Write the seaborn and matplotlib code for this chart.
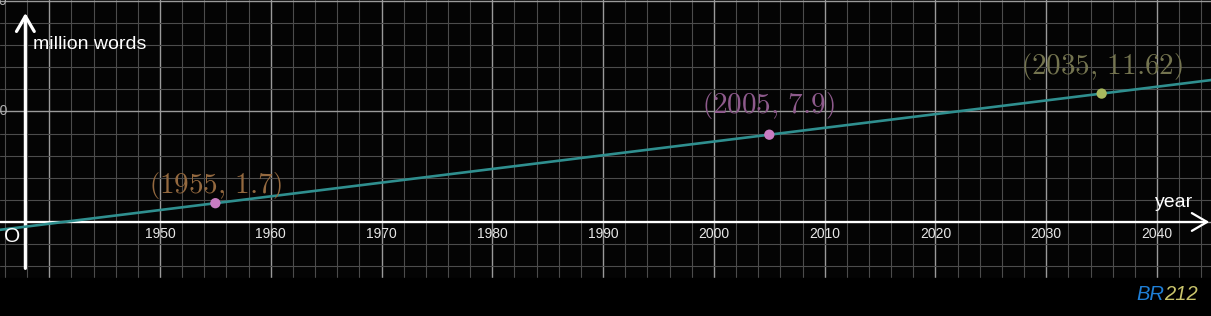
import numpy as np
import pandas as pd
import matplotlib
matplotlib.use("Agg")
import matplotlib.pyplot as plt
import seaborn as sns

# ---- data ----
years = [1955, 2005, 2035]
words = [1.7, 7.9, 11.62]
point_labels = ["(1955,\\,1.7)", "(2005,\\,7.9)", "(2035,\\,11.62)"]
point_colors = ["#c87cc2", "#c87cc2", "#a8b95e"]
label_colors = ["#94693f", "#8e5a8c", "#74744f"]
label_offsets_px = [(0, 18), (-1, 29), (0, 27)]
xtick_years = [1950, 1960, 1970, 1980, 1990, 2000, 2010, 2020, 2030, 2040]
ytick_values = [10, 20]

sns.set_theme(style="dark", rc={"axes.facecolor": "black", "figure.facecolor": "black"})
plt.rcParams["font.family"] = ["Liberation Sans", "DejaVu Sans"]
plt.rcParams["mathtext.fontset"] = "cm"

W, H = 1211, 316
fig = plt.figure(figsize=(W / 100, H / 100), dpi=100)
ax = fig.add_axes([0, 0, 1, 1])
ax.set_facecolor("#040404")

xlim = (1935.56, 2044.87)
ylim = (-8.51, 20.09)

# fitted line through the points
coef = np.polyfit(years, words, 1)
xs = np.array(xlim)
sns.lineplot(x=xs, y=np.polyval(coef, xs), ax=ax, color="#2f8f8f", lw=1.9, zorder=3)

# points
df = pd.DataFrame({"year": years, "words": words, "c": point_colors})
sns.scatterplot(data=df, x="year", y="words", hue="c", palette={c: c for c in point_colors},
                s=55, edgecolor="none", ax=ax, zorder=4, legend=False)

# grid
ax.set_xticks(np.arange(1940, 2045, 10))
ax.set_xticks(np.arange(1936, 2045, 2), minor=True)
ax.set_yticks(np.arange(-10, 21, 10))
ax.set_yticks(np.arange(-8, 21, 2), minor=True)
ax.grid(which="major", color="#9a9a9a", lw=1.0)
ax.grid(which="minor", color="#4c4c4c", lw=0.8)
ax.set_axisbelow(True)
ax.tick_params(which="both", length=0, labelbottom=False, labelleft=False)
for s in ax.spines.values():
    s.set_visible(False)
ax.set_xlim(xlim)
ax.set_ylim(ylim)

# black strip at the bottom
bottom_cut = -(278 - 222) / 11.05
ax.axhspan(ylim[0], bottom_cut, color="black", zorder=1)

# axes arrows
yaxis_x = 1937.85
ax.annotate("", xy=(xlim[1] - 0.15, 0), xytext=(xlim[0], 0),
            arrowprops=dict(arrowstyle="->,head_length=0.55,head_width=0.32",
                            color="white", lw=1.6, mutation_scale=20,
                            shrinkA=0, shrinkB=0), zorder=2)
ax.annotate("", xy=(yaxis_x, (222 - 13) / 11.05), xytext=(yaxis_x, -4.2),
            arrowprops=dict(arrowstyle="->,head_length=0.55,head_width=0.32",
                            color="white", lw=2.3, mutation_scale=20,
                            shrinkA=0, shrinkB=0), zorder=2)

for x, y, lab, col, off in zip(years, words, point_labels, label_colors, label_offsets_px):
    ax.annotate("$\\left" + lab[0] + lab[1:-1] + "\\right" + lab[-1] + "$", xy=(x, y),
                xytext=off, textcoords="offset pixels", ha="center", va="center",
                color=col, fontsize=21, zorder=5)

# x tick labels
for yr in xtick_years:
    ax.annotate(str(yr), xy=(yr, 0), xytext=(0, -12), textcoords="offset pixels",
                ha="center", va="center", color="#e6e6e6", fontsize=10)

# y tick labels (mostly cut off at left edge, as in the original)
for v in ytick_values:
    ax.annotate(str(v), xy=(xlim[0], v), xytext=(7, 0), textcoords="offset pixels",
                ha="right", va="center", color="#b0b0b0", fontsize=10)

ax.set_xlabel("")
ax.set_ylabel("")

# axis titles
fig.text(33 / W, 1 - 49 / H, "million words", color="white", fontsize=14, va="baseline")
fig.text(1155 / W, 1 - 207 / H, "year", color="white", fontsize=14, va="baseline")
fig.text(12.5 / W, 1 - 237 / H, "O", color="white", fontsize=15, ha="center", va="center")

# watermark
t1 = fig.text(1136 / W, 1 - 300 / H, "BR", color="#1f7fd6", fontsize=14.5,
              style="italic", va="baseline")
ax.annotate("212", xy=(1, 0), xycoords=t1, va="bottom", ha="left",
            color="#c9c46c", fontsize=14.5, style="italic")

fig.savefig("out.png", dpi=100, facecolor="black")
